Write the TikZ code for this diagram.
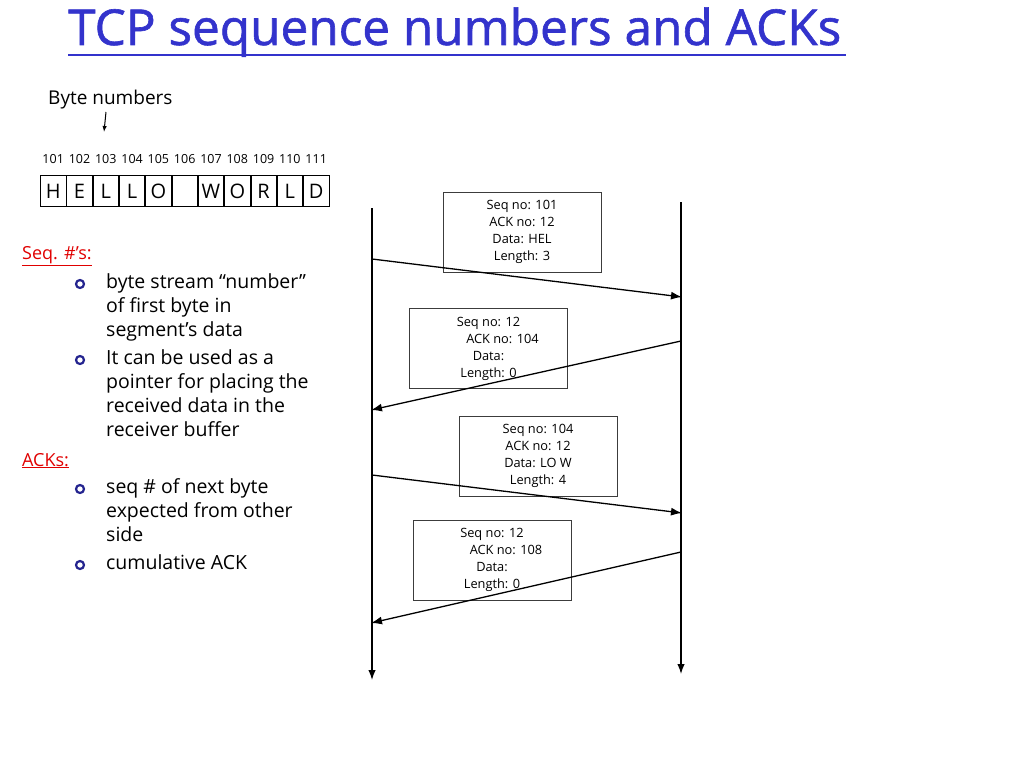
\documentclass[tikz,border=0pt]{standalone}
\usepackage{fontspec}
\setmainfont{Open Sans}
\newfontfamily\titlefont[FakeBold=1.2]{Open Sans}
\usetikzlibrary{arrows.meta}
\definecolor{titleblue}{RGB}{51,51,204}
\definecolor{labelred}{RGB}{224,0,0}
\definecolor{boxgray}{RGB}{60,60,60}
\tikzset{
  body/.style={anchor=base west, inner sep=0, font=\fontsize{19.5}{24}\selectfont},
  redlabel/.style={anchor=base west, inner sep=0, text=labelred, font=\fontsize{18}{22}\selectfont},
  bulletmark/.style={circle, draw=titleblue!70!black, line width=2.2pt, minimum size=8pt, inner sep=0},
  bytenum/.style={inner sep=0, font=\fontsize{12.5}{14}\selectfont},
  bytebox/.style={draw=black, line width=0.7pt, minimum width=25.4pt, minimum height=31pt, inner sep=0, font=\fontsize{20}{22}\selectfont},
  segbox/.style={draw=boxgray, line width=0.9pt, minimum width=158pt, minimum height=80pt, align=center, inner sep=0, font=\fontsize{12.8}{17}\selectfont},
  timeline/.style={line width=1.4pt, -{Latex[length=10pt,width=7.5pt]}},
  msg/.style={line width=1.3pt, -{Latex[length=11pt,width=8pt]}},
}
\begin{document}
\begin{tikzpicture}[x=1pt,y=-1pt]
\useasboundingbox (0,0) rectangle (1024,768);
% title
\node[anchor=base west, inner sep=0, text=titleblue, font=\titlefont\fontsize{49.5}{52}\selectfont] (title) at (68,45) {TCP sequence numbers and ACKs};
\coordinate (ulA) at (68,55);
\coordinate (ulB) at (846,55);
\draw[titleblue, line width=2.5pt] (ulA) -- (ulB);
% byte numbers
\node[anchor=base west, inner sep=0, font=\fontsize{19}{22}\selectfont] (bytelabel) at (48,104) {Byte numbers};
\coordinate (bnA) at (106,112);
\coordinate (bnB) at (104,132);
\draw[line width=1pt, -{Latex[length=6pt,width=4.5pt]}] (bnA) -- (bnB);
\foreach \i/\n/\c in {0/101/H,1/102/E,2/103/L,3/104/L,4/105/O,5/106/{},6/107/W,7/108/O,8/109/R,9/110/L,10/111/D}{
  \node[bytenum] (num\i) at (53.2+26.3*\i,159) {\n};
  \node[bytebox] (byte\i) at (53.2+26.3*\i,191) {\c};
}
% left text
\node[redlabel] (seqlabel) at (22,259) {\underline{Seq. \#’s:}};
\node[bulletmark] (b1) at (80,284) {};
\node[body] (t1a) at (106,288) {byte stream “number”};
\node[body] (t1b) at (106,312) {of first byte in};
\node[body] (t1c) at (106,336) {segment’s data};
\node[bulletmark] (b2) at (80,360) {};
\node[body] (t2a) at (106,364) {It can be used as a};
\node[body] (t2b) at (106,388) {pointer for placing the};
\node[body] (t2c) at (106,412) {received data in the};
\node[body] (t2d) at (106,436) {receiver buffer};
\node[redlabel] (acklabel) at (22,466) {\underline{ACKs:}};
\node[bulletmark] (b3) at (80,489) {};
\node[body] (t3a) at (106,493) {seq \# of next byte};
\node[body] (t3b) at (106,517) {expected from other};
\node[body] (t3c) at (106,541) {side};
\node[bulletmark] (b4) at (80,565) {};
\node[body] (t4a) at (106,569) {cumulative ACK};
% timelines
\coordinate (Ltop) at (372,208);
\coordinate (Lbot) at (372,680);
\coordinate (Rtop) at (681,202);
\coordinate (Rbot) at (681,674);
\draw[timeline] (Ltop) -- (Lbot);
\draw[timeline] (Rtop) -- (Rbot);
% segment boxes
\node[segbox] (seg1) at (522,232) {Seq no: 101\\ACK no: 12\\Data: HEL\\Length: 3};
\node[segbox] (seg2) at (488.5,348.5) {Seq no: 12\\\hspace*{28pt}ACK no: 104\\Data:\\Length: 0};
\node[segbox] (seg3) at (538,456) {Seq no: 104\\ACK no: 12\\Data: LO W\\Length: 4};
\node[segbox] (seg4) at (492,560) {Seq no: 12\\\hspace*{28pt}ACK no: 108\\Data:\\Length: 0};
% messages
\coordinate (s1) at (372,259);
\coordinate (r1) at (682,297);
\coordinate (s2) at (681,341);
\coordinate (r2) at (371,410);
\coordinate (s3) at (372,475);
\coordinate (r3) at (682,513);
\coordinate (s4) at (681,552);
\coordinate (r4) at (371,623);
\draw[msg] (s1) -- (r1);
\draw[msg] (s2) -- (r2);
\draw[msg] (s3) -- (r3);
\draw[msg] (s4) -- (r4);
\end{tikzpicture}
\end{document}
